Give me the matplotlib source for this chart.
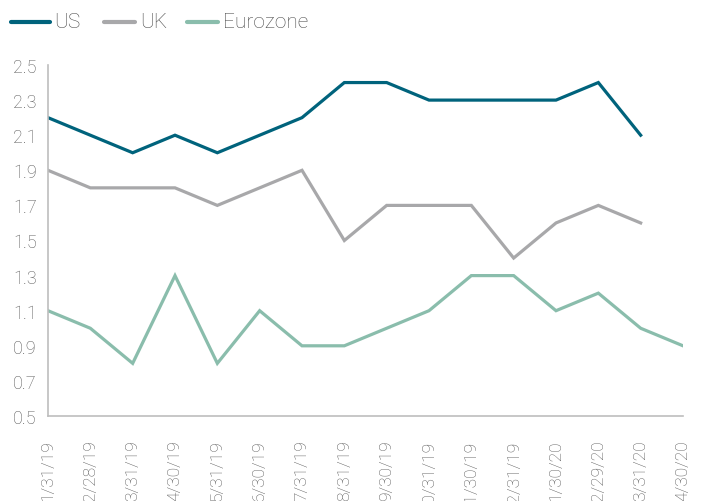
import numpy as np
import matplotlib
matplotlib.use("Agg")
import matplotlib.pyplot as plt
from matplotlib.lines import Line2D

dates = ["1/31/19", "2/28/19", "3/31/19", "4/30/19", "5/31/19", "6/30/19",
         "7/31/19", "8/31/19", "9/30/19", "10/31/19", "11/30/19", "12/31/19",
         "1/30/20", "2/29/20", "3/31/20", "4/30/20"]
series_names = ["US", "UK", "Eurozone"]
us = [2.2, 2.1, 2.0, 2.1, 2.0, 2.1, 2.2, 2.4, 2.4, 2.3, 2.3, 2.3, 2.3, 2.4, 2.1, np.nan]
uk = [1.9, 1.8, 1.8, 1.8, 1.7, 1.8, 1.9, 1.5, 1.7, 1.7, 1.7, 1.4, 1.6, 1.7, 1.6, np.nan]
ez = [1.1, 1.0, 0.8, 1.3, 0.8, 1.1, 0.9, 0.9, 1.0, 1.1, 1.3, 1.3, 1.1, 1.2, 1.0, 0.9]
yticks = [0.5, 0.7, 0.9, 1.1, 1.3, 1.5, 1.7, 1.9, 2.1, 2.3, 2.5]
colors = ["#00637C", "#A8A8AA", "#8ABDAC"]

W, H = 708, 502
fig = plt.figure(figsize=(W / 100, H / 100), dpi=100)
ax = fig.add_axes([48 / W, 1 - 417 / H, (683 - 48) / W, (417 - 66) / H])

x = np.arange(len(dates))
lw = 2.3
for vals, c, n in zip([us, uk, ez], colors, series_names):
    ax.plot(x, vals, color=c, lw=lw, label=n, solid_joinstyle="miter")

ax.set_xlim(0, len(dates) - 1)
ax.set_ylim(0.5, 2.5)
ax.set_yticks(yticks)
ax.set_yticklabels([f"{v:.1f}" for v in yticks])
ax.set_xticks(x)
ax.set_xticklabels(dates, rotation=90, va="top", ha="center")

tc = "#595959"
fam = ["Roboto", "DejaVu Sans"]
ax.tick_params(axis="y", length=0, pad=8, labelsize=13, labelcolor=tc)
ax.tick_params(axis="x", length=0, pad=17, labelsize=12.5, labelcolor=tc)
for lab in ax.get_xticklabels() + ax.get_yticklabels():
    lab.set_fontfamily(fam)
    lab.set_fontweight("light")
for s in ["top", "right"]:
    ax.spines[s].set_visible(False)
for s in ["left", "bottom"]:
    ax.spines[s].set_color("#BDBDBD")
    ax.spines[s].set_linewidth(1.2)

# legend drawn in figure pixel space
leg_items = [(11, 50, 54), (104, 135, 140), (187, 218, 223)]
ly = 1 - 23 / H
for (x0, x1, tx), c, n in zip(leg_items, colors, series_names):
    fig.add_artist(Line2D([x0 / W, x1 / W], [ly, ly], color=c, lw=3.0,
                          solid_capstyle="round", transform=fig.transFigure))
    fig.text(tx / W, ly, n, ha="left", va="center", fontsize=15,
             family=fam, fontweight="light", color="#4a4a4a")

fig.savefig("out.png", dpi=100)
